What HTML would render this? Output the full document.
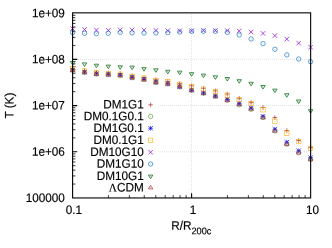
<!DOCTYPE html><html><head><meta charset="utf-8"><style>html,body{margin:0;padding:0;background:#fff}</style></head><body><svg width="332" height="248" viewBox="0 0 332 248" style="display:block;font-family:'Liberation Sans',sans-serif;font-size:11.75px">
<rect width="332" height="248" fill="#fff"/>
<path d="M78 59.39H310.6M78 105.58H310.6M78 151.76H310.6M191.45 14V197.95" stroke="#d6d6d6" stroke-width="0.7" stroke-dasharray="1 1" fill="none"/>
<path d="M72.6 59.39h4.6M72.6 105.58h4.6M72.6 151.76h4.6M191.60 197.95v-4.6" stroke="#000" stroke-width="1.1" fill="none"/>
<path d="M72.6 45.48h2.8M72.6 37.35h2.8M72.6 31.58h2.8M72.6 27.10h2.8M72.6 23.45h2.8M72.6 20.35h2.8M72.6 17.68h2.8M72.6 15.31h2.8M72.6 91.67h2.8M72.6 83.54h2.8M72.6 77.77h2.8M72.6 73.29h2.8M72.6 69.63h2.8M72.6 66.54h2.8M72.6 63.86h2.8M72.6 61.50h2.8M72.6 137.86h2.8M72.6 129.73h2.8M72.6 123.95h2.8M72.6 119.48h2.8M72.6 115.82h2.8M72.6 112.73h2.8M72.6 110.05h2.8M72.6 107.69h2.8M72.6 184.05h2.8M72.6 175.91h2.8M72.6 170.14h2.8M72.6 165.67h2.8M72.6 162.01h2.8M72.6 158.92h2.8M72.6 156.24h2.8M72.6 153.88h2.8M108.42 197.95v-2.8M129.38 197.95v-2.8M144.25 197.95v-2.8M155.78 197.95v-2.8M165.20 197.95v-2.8M173.17 197.95v-2.8M180.07 197.95v-2.8M186.15 197.95v-2.8M227.42 197.95v-2.8M248.38 197.95v-2.8M263.25 197.95v-2.8M274.78 197.95v-2.8M284.20 197.95v-2.8M292.17 197.95v-2.8M299.07 197.95v-2.8M305.15 197.95v-2.8" stroke="#000" stroke-width="0.78" fill="none"/>
<rect x="79" y="99" width="78" height="95" fill="#fff"/>
<path d="M70.35 68.40H74.85M72.60 66.15V70.65" stroke="#a52a2a" stroke-width="0.66" fill="none"/>
<path d="M82.25 70.55H86.75M84.50 68.30V72.80" stroke="#a52a2a" stroke-width="0.66" fill="none"/>
<path d="M94.15 72.20H98.65M96.40 69.95V74.45" stroke="#a52a2a" stroke-width="0.66" fill="none"/>
<path d="M106.05 73.05H110.55M108.30 70.80V75.30" stroke="#a52a2a" stroke-width="0.66" fill="none"/>
<path d="M117.95 73.75H122.45M120.20 71.50V76.00" stroke="#a52a2a" stroke-width="0.66" fill="none"/>
<path d="M129.85 75.70H134.35M132.10 73.45V77.95" stroke="#a52a2a" stroke-width="0.66" fill="none"/>
<path d="M141.75 77.60H146.25M144.00 75.35V79.85" stroke="#a52a2a" stroke-width="0.66" fill="none"/>
<path d="M153.65 79.70H158.15M155.90 77.45V81.95" stroke="#a52a2a" stroke-width="0.66" fill="none"/>
<path d="M165.55 81.40H170.05M167.80 79.15V83.65" stroke="#a52a2a" stroke-width="0.66" fill="none"/>
<path d="M177.45 83.55H181.95M179.70 81.30V85.80" stroke="#a52a2a" stroke-width="0.66" fill="none"/>
<path d="M189.35 85.75H193.85M191.60 83.50V88.00" stroke="#a52a2a" stroke-width="0.66" fill="none"/>
<path d="M201.25 88.30H205.75M203.50 86.05V90.55" stroke="#a52a2a" stroke-width="0.66" fill="none"/>
<path d="M213.15 90.85H217.65M215.40 88.60V93.10" stroke="#a52a2a" stroke-width="0.66" fill="none"/>
<path d="M225.05 94.10H229.55M227.30 91.85V96.35" stroke="#a52a2a" stroke-width="0.66" fill="none"/>
<path d="M236.95 98.30H241.45M239.20 96.05V100.55" stroke="#a52a2a" stroke-width="0.66" fill="none"/>
<path d="M248.85 102.55H253.35M251.10 100.30V104.80" stroke="#a52a2a" stroke-width="0.66" fill="none"/>
<path d="M260.75 107.45H265.25M263.00 105.20V109.70" stroke="#a52a2a" stroke-width="0.66" fill="none"/>
<path d="M272.65 117.50H277.15M274.90 115.25V119.75" stroke="#a52a2a" stroke-width="0.66" fill="none"/>
<path d="M284.55 130.50H289.05M286.80 128.25V132.75" stroke="#a52a2a" stroke-width="0.66" fill="none"/>
<path d="M296.45 140.50H300.95M298.70 138.25V142.75" stroke="#a52a2a" stroke-width="0.66" fill="none"/>
<path d="M308.35 147.60H312.85M310.60 145.35V149.85" stroke="#a52a2a" stroke-width="0.66" fill="none"/>
<path d="M148.35 104.80H152.85M150.60 102.55V107.05" stroke="#a52a2a" stroke-width="0.66" fill="none"/>
<circle cx="72.60" cy="70.25" r="2.20" stroke="#4f9a2f" stroke-width="0.66" fill="none"/><circle cx="72.60" cy="70.25" r="0.35" fill="#4f9a2f"/>
<circle cx="84.50" cy="72.40" r="2.20" stroke="#4f9a2f" stroke-width="0.66" fill="none"/><circle cx="84.50" cy="72.40" r="0.35" fill="#4f9a2f"/>
<circle cx="96.40" cy="74.05" r="2.20" stroke="#4f9a2f" stroke-width="0.66" fill="none"/><circle cx="96.40" cy="74.05" r="0.35" fill="#4f9a2f"/>
<circle cx="108.30" cy="74.60" r="2.20" stroke="#4f9a2f" stroke-width="0.66" fill="none"/><circle cx="108.30" cy="74.60" r="0.35" fill="#4f9a2f"/>
<circle cx="120.20" cy="75.40" r="2.20" stroke="#4f9a2f" stroke-width="0.66" fill="none"/><circle cx="120.20" cy="75.40" r="0.35" fill="#4f9a2f"/>
<circle cx="132.10" cy="77.70" r="2.20" stroke="#4f9a2f" stroke-width="0.66" fill="none"/><circle cx="132.10" cy="77.70" r="0.35" fill="#4f9a2f"/>
<circle cx="144.00" cy="79.50" r="2.20" stroke="#4f9a2f" stroke-width="0.66" fill="none"/><circle cx="144.00" cy="79.50" r="0.35" fill="#4f9a2f"/>
<circle cx="155.90" cy="82.40" r="2.20" stroke="#4f9a2f" stroke-width="0.66" fill="none"/><circle cx="155.90" cy="82.40" r="0.35" fill="#4f9a2f"/>
<circle cx="167.80" cy="83.90" r="2.20" stroke="#4f9a2f" stroke-width="0.66" fill="none"/><circle cx="167.80" cy="83.90" r="0.35" fill="#4f9a2f"/>
<circle cx="179.70" cy="86.80" r="2.20" stroke="#4f9a2f" stroke-width="0.66" fill="none"/><circle cx="179.70" cy="86.80" r="0.35" fill="#4f9a2f"/>
<circle cx="191.60" cy="90.30" r="2.20" stroke="#4f9a2f" stroke-width="0.66" fill="none"/><circle cx="191.60" cy="90.30" r="0.35" fill="#4f9a2f"/>
<circle cx="203.50" cy="93.20" r="2.20" stroke="#4f9a2f" stroke-width="0.66" fill="none"/><circle cx="203.50" cy="93.20" r="0.35" fill="#4f9a2f"/>
<circle cx="215.40" cy="96.30" r="2.20" stroke="#4f9a2f" stroke-width="0.66" fill="none"/><circle cx="215.40" cy="96.30" r="0.35" fill="#4f9a2f"/>
<circle cx="227.30" cy="100.30" r="2.20" stroke="#4f9a2f" stroke-width="0.66" fill="none"/><circle cx="227.30" cy="100.30" r="0.35" fill="#4f9a2f"/>
<circle cx="239.20" cy="104.70" r="2.20" stroke="#4f9a2f" stroke-width="0.66" fill="none"/><circle cx="239.20" cy="104.70" r="0.35" fill="#4f9a2f"/>
<circle cx="251.10" cy="109.30" r="2.20" stroke="#4f9a2f" stroke-width="0.66" fill="none"/><circle cx="251.10" cy="109.30" r="0.35" fill="#4f9a2f"/>
<circle cx="263.00" cy="117.50" r="2.20" stroke="#4f9a2f" stroke-width="0.66" fill="none"/><circle cx="263.00" cy="117.50" r="0.35" fill="#4f9a2f"/>
<circle cx="274.90" cy="130.90" r="2.20" stroke="#4f9a2f" stroke-width="0.66" fill="none"/><circle cx="274.90" cy="130.90" r="0.35" fill="#4f9a2f"/>
<circle cx="286.80" cy="144.15" r="2.20" stroke="#4f9a2f" stroke-width="0.66" fill="none"/><circle cx="286.80" cy="144.15" r="0.35" fill="#4f9a2f"/>
<circle cx="298.70" cy="152.70" r="2.20" stroke="#4f9a2f" stroke-width="0.66" fill="none"/><circle cx="298.70" cy="152.70" r="0.35" fill="#4f9a2f"/>
<circle cx="310.60" cy="159.20" r="2.20" stroke="#4f9a2f" stroke-width="0.66" fill="none"/><circle cx="310.60" cy="159.20" r="0.35" fill="#4f9a2f"/>
<circle cx="150.60" cy="116.40" r="2.20" stroke="#4f9a2f" stroke-width="0.66" fill="none"/><circle cx="150.60" cy="116.40" r="0.35" fill="#4f9a2f"/>
<path d="M70.40 70.05H74.80M72.60 67.85V72.25M70.40 67.85L74.80 72.25M70.40 72.25L74.80 67.85" stroke="#0000ff" stroke-width="0.68" fill="none"/>
<path d="M82.30 72.20H86.70M84.50 70.00V74.40M82.30 70.00L86.70 74.40M82.30 74.40L86.70 70.00" stroke="#0000ff" stroke-width="0.68" fill="none"/>
<path d="M94.20 73.85H98.60M96.40 71.65V76.05M94.20 71.65L98.60 76.05M94.20 76.05L98.60 71.65" stroke="#0000ff" stroke-width="0.68" fill="none"/>
<path d="M106.10 74.40H110.50M108.30 72.20V76.60M106.10 72.20L110.50 76.60M106.10 76.60L110.50 72.20" stroke="#0000ff" stroke-width="0.68" fill="none"/>
<path d="M118.00 75.20H122.40M120.20 73.00V77.40M118.00 73.00L122.40 77.40M118.00 77.40L122.40 73.00" stroke="#0000ff" stroke-width="0.68" fill="none"/>
<path d="M129.90 77.50H134.30M132.10 75.30V79.70M129.90 75.30L134.30 79.70M129.90 79.70L134.30 75.30" stroke="#0000ff" stroke-width="0.68" fill="none"/>
<path d="M141.80 79.30H146.20M144.00 77.10V81.50M141.80 77.10L146.20 81.50M141.80 81.50L146.20 77.10" stroke="#0000ff" stroke-width="0.68" fill="none"/>
<path d="M153.70 82.20H158.10M155.90 80.00V84.40M153.70 80.00L158.10 84.40M153.70 84.40L158.10 80.00" stroke="#0000ff" stroke-width="0.68" fill="none"/>
<path d="M165.60 83.70H170.00M167.80 81.50V85.90M165.60 81.50L170.00 85.90M165.60 85.90L170.00 81.50" stroke="#0000ff" stroke-width="0.68" fill="none"/>
<path d="M177.50 86.60H181.90M179.70 84.40V88.80M177.50 84.40L181.90 88.80M177.50 88.80L181.90 84.40" stroke="#0000ff" stroke-width="0.68" fill="none"/>
<path d="M189.40 90.10H193.80M191.60 87.90V92.30M189.40 87.90L193.80 92.30M189.40 92.30L193.80 87.90" stroke="#0000ff" stroke-width="0.68" fill="none"/>
<path d="M201.30 93.05H205.70M203.50 90.85V95.25M201.30 90.85L205.70 95.25M201.30 95.25L205.70 90.85" stroke="#0000ff" stroke-width="0.68" fill="none"/>
<path d="M213.20 96.00H217.60M215.40 93.80V98.20M213.20 93.80L217.60 98.20M213.20 98.20L217.60 93.80" stroke="#0000ff" stroke-width="0.68" fill="none"/>
<path d="M225.10 99.40H229.50M227.30 97.20V101.60M225.10 97.20L229.50 101.60M225.10 101.60L229.50 97.20" stroke="#0000ff" stroke-width="0.68" fill="none"/>
<path d="M237.00 103.70H241.40M239.20 101.50V105.90M237.00 101.50L241.40 105.90M237.00 105.90L241.40 101.50" stroke="#0000ff" stroke-width="0.68" fill="none"/>
<path d="M248.90 108.10H253.30M251.10 105.90V110.30M248.90 105.90L253.30 110.30M248.90 110.30L253.30 105.90" stroke="#0000ff" stroke-width="0.68" fill="none"/>
<path d="M260.80 116.30H265.20M263.00 114.10V118.50M260.80 114.10L265.20 118.50M260.80 118.50L265.20 114.10" stroke="#0000ff" stroke-width="0.68" fill="none"/>
<path d="M272.70 129.20H277.10M274.90 127.00V131.40M272.70 127.00L277.10 131.40M272.70 131.40L277.10 127.00" stroke="#0000ff" stroke-width="0.68" fill="none"/>
<path d="M284.60 142.20H289.00M286.80 140.00V144.40M284.60 140.00L289.00 144.40M284.60 144.40L289.00 140.00" stroke="#0000ff" stroke-width="0.68" fill="none"/>
<path d="M296.50 150.70H300.90M298.70 148.50V152.90M296.50 148.50L300.90 152.90M296.50 152.90L300.90 148.50" stroke="#0000ff" stroke-width="0.68" fill="none"/>
<path d="M308.40 157.70H312.80M310.60 155.50V159.90M308.40 155.50L312.80 159.90M308.40 159.90L312.80 155.50" stroke="#0000ff" stroke-width="0.68" fill="none"/>
<path d="M148.40 128.30H152.80M150.60 126.10V130.50M148.40 126.10L152.80 130.50M148.40 130.50L152.80 126.10" stroke="#0000ff" stroke-width="0.68" fill="none"/>
<rect x="70.40" y="66.60" width="4.40" height="4.40" stroke="#ffa500" stroke-width="0.56" fill="none"/><circle cx="72.60" cy="68.80" r="0.35" fill="#ffa500"/>
<rect x="82.30" y="68.75" width="4.40" height="4.40" stroke="#ffa500" stroke-width="0.56" fill="none"/><circle cx="84.50" cy="70.95" r="0.35" fill="#ffa500"/>
<rect x="94.20" y="70.40" width="4.40" height="4.40" stroke="#ffa500" stroke-width="0.56" fill="none"/><circle cx="96.40" cy="72.60" r="0.35" fill="#ffa500"/>
<rect x="106.10" y="71.25" width="4.40" height="4.40" stroke="#ffa500" stroke-width="0.56" fill="none"/><circle cx="108.30" cy="73.45" r="0.35" fill="#ffa500"/>
<rect x="118.00" y="72.00" width="4.40" height="4.40" stroke="#ffa500" stroke-width="0.56" fill="none"/><circle cx="120.20" cy="74.20" r="0.35" fill="#ffa500"/>
<rect x="129.90" y="74.20" width="4.40" height="4.40" stroke="#ffa500" stroke-width="0.56" fill="none"/><circle cx="132.10" cy="76.40" r="0.35" fill="#ffa500"/>
<rect x="141.80" y="75.90" width="4.40" height="4.40" stroke="#ffa500" stroke-width="0.56" fill="none"/><circle cx="144.00" cy="78.10" r="0.35" fill="#ffa500"/>
<rect x="153.70" y="78.20" width="4.40" height="4.40" stroke="#ffa500" stroke-width="0.56" fill="none"/><circle cx="155.90" cy="80.40" r="0.35" fill="#ffa500"/>
<rect x="165.60" y="79.60" width="4.40" height="4.40" stroke="#ffa500" stroke-width="0.56" fill="none"/><circle cx="167.80" cy="81.80" r="0.35" fill="#ffa500"/>
<rect x="177.50" y="82.20" width="4.40" height="4.40" stroke="#ffa500" stroke-width="0.56" fill="none"/><circle cx="179.70" cy="84.40" r="0.35" fill="#ffa500"/>
<rect x="189.40" y="84.50" width="4.40" height="4.40" stroke="#ffa500" stroke-width="0.56" fill="none"/><circle cx="191.60" cy="86.70" r="0.35" fill="#ffa500"/>
<rect x="201.30" y="87.00" width="4.40" height="4.40" stroke="#ffa500" stroke-width="0.56" fill="none"/><circle cx="203.50" cy="89.20" r="0.35" fill="#ffa500"/>
<rect x="213.20" y="89.45" width="4.40" height="4.40" stroke="#ffa500" stroke-width="0.56" fill="none"/><circle cx="215.40" cy="91.65" r="0.35" fill="#ffa500"/>
<rect x="225.10" y="93.00" width="4.40" height="4.40" stroke="#ffa500" stroke-width="0.56" fill="none"/><circle cx="227.30" cy="95.20" r="0.35" fill="#ffa500"/>
<rect x="237.00" y="97.30" width="4.40" height="4.40" stroke="#ffa500" stroke-width="0.56" fill="none"/><circle cx="239.20" cy="99.50" r="0.35" fill="#ffa500"/>
<rect x="248.90" y="101.30" width="4.40" height="4.40" stroke="#ffa500" stroke-width="0.56" fill="none"/><circle cx="251.10" cy="103.50" r="0.35" fill="#ffa500"/>
<rect x="260.80" y="107.60" width="4.40" height="4.40" stroke="#ffa500" stroke-width="0.56" fill="none"/><circle cx="263.00" cy="109.80" r="0.35" fill="#ffa500"/>
<rect x="272.70" y="119.00" width="4.40" height="4.40" stroke="#ffa500" stroke-width="0.56" fill="none"/><circle cx="274.90" cy="121.20" r="0.35" fill="#ffa500"/>
<rect x="284.60" y="131.10" width="4.40" height="4.40" stroke="#ffa500" stroke-width="0.56" fill="none"/><circle cx="286.80" cy="133.30" r="0.35" fill="#ffa500"/>
<rect x="296.50" y="139.30" width="4.40" height="4.40" stroke="#ffa500" stroke-width="0.56" fill="none"/><circle cx="298.70" cy="141.50" r="0.35" fill="#ffa500"/>
<rect x="308.40" y="146.20" width="4.40" height="4.40" stroke="#ffa500" stroke-width="0.56" fill="none"/><circle cx="310.60" cy="148.40" r="0.35" fill="#ffa500"/>
<rect x="148.40" y="138.10" width="4.40" height="4.40" stroke="#ffa500" stroke-width="0.56" fill="none"/><circle cx="150.60" cy="140.30" r="0.35" fill="#ffa500"/>
<path d="M70.35 26.35L74.85 30.85M70.35 30.85L74.85 26.35" stroke="#9400d3" stroke-width="0.72" fill="none"/>
<path d="M82.25 27.25L86.75 31.75M82.25 31.75L86.75 27.25" stroke="#9400d3" stroke-width="0.72" fill="none"/>
<path d="M94.15 27.85L98.65 32.35M94.15 32.35L98.65 27.85" stroke="#9400d3" stroke-width="0.72" fill="none"/>
<path d="M106.05 28.15L110.55 32.65M106.05 32.65L110.55 28.15" stroke="#9400d3" stroke-width="0.72" fill="none"/>
<path d="M117.95 27.65L122.45 32.15M117.95 32.15L122.45 27.65" stroke="#9400d3" stroke-width="0.72" fill="none"/>
<path d="M129.85 27.65L134.35 32.15M129.85 32.15L134.35 27.65" stroke="#9400d3" stroke-width="0.72" fill="none"/>
<path d="M141.75 27.85L146.25 32.35M141.75 32.35L146.25 27.85" stroke="#9400d3" stroke-width="0.72" fill="none"/>
<path d="M153.65 28.15L158.15 32.65M153.65 32.65L158.15 28.15" stroke="#9400d3" stroke-width="0.72" fill="none"/>
<path d="M165.55 28.45L170.05 32.95M165.55 32.95L170.05 28.45" stroke="#9400d3" stroke-width="0.72" fill="none"/>
<path d="M177.45 28.55L181.95 33.05M177.45 33.05L181.95 28.55" stroke="#9400d3" stroke-width="0.72" fill="none"/>
<path d="M189.35 28.55L193.85 33.05M189.35 33.05L193.85 28.55" stroke="#9400d3" stroke-width="0.72" fill="none"/>
<path d="M201.25 28.15L205.75 32.65M201.25 32.65L205.75 28.15" stroke="#9400d3" stroke-width="0.72" fill="none"/>
<path d="M213.15 28.25L217.65 32.75M213.15 32.75L217.65 28.25" stroke="#9400d3" stroke-width="0.72" fill="none"/>
<path d="M225.05 28.35L229.55 32.85M225.05 32.85L229.55 28.35" stroke="#9400d3" stroke-width="0.72" fill="none"/>
<path d="M236.95 28.75L241.45 33.25M236.95 33.25L241.45 28.75" stroke="#9400d3" stroke-width="0.72" fill="none"/>
<path d="M248.85 29.75L253.35 34.25M248.85 34.25L253.35 29.75" stroke="#9400d3" stroke-width="0.72" fill="none"/>
<path d="M260.75 31.15L265.25 35.65M260.75 35.65L265.25 31.15" stroke="#9400d3" stroke-width="0.72" fill="none"/>
<path d="M272.65 33.35L277.15 37.85M272.65 37.85L277.15 33.35" stroke="#9400d3" stroke-width="0.72" fill="none"/>
<path d="M284.55 36.85L289.05 41.35M284.55 41.35L289.05 36.85" stroke="#9400d3" stroke-width="0.72" fill="none"/>
<path d="M296.45 40.95L300.95 45.45M296.45 45.45L300.95 40.95" stroke="#9400d3" stroke-width="0.72" fill="none"/>
<path d="M308.35 44.95L312.85 49.45M308.35 49.45L312.85 44.95" stroke="#9400d3" stroke-width="0.72" fill="none"/>
<path d="M148.35 149.95L152.85 154.45M148.35 154.45L152.85 149.95" stroke="#9400d3" stroke-width="0.72" fill="none"/>
<circle cx="72.60" cy="32.60" r="2.20" stroke="#2e7fc8" stroke-width="0.74" fill="none"/><circle cx="72.60" cy="32.60" r="0.35" fill="#2e7fc8"/>
<circle cx="84.50" cy="33.30" r="2.20" stroke="#2e7fc8" stroke-width="0.74" fill="none"/><circle cx="84.50" cy="33.30" r="0.35" fill="#2e7fc8"/>
<circle cx="96.40" cy="33.70" r="2.20" stroke="#2e7fc8" stroke-width="0.74" fill="none"/><circle cx="96.40" cy="33.70" r="0.35" fill="#2e7fc8"/>
<circle cx="108.30" cy="33.30" r="2.20" stroke="#2e7fc8" stroke-width="0.74" fill="none"/><circle cx="108.30" cy="33.30" r="0.35" fill="#2e7fc8"/>
<circle cx="120.20" cy="32.30" r="2.20" stroke="#2e7fc8" stroke-width="0.74" fill="none"/><circle cx="120.20" cy="32.30" r="0.35" fill="#2e7fc8"/>
<circle cx="132.10" cy="32.80" r="2.20" stroke="#2e7fc8" stroke-width="0.74" fill="none"/><circle cx="132.10" cy="32.80" r="0.35" fill="#2e7fc8"/>
<circle cx="144.00" cy="33.00" r="2.20" stroke="#2e7fc8" stroke-width="0.74" fill="none"/><circle cx="144.00" cy="33.00" r="0.35" fill="#2e7fc8"/>
<circle cx="155.90" cy="33.00" r="2.20" stroke="#2e7fc8" stroke-width="0.74" fill="none"/><circle cx="155.90" cy="33.00" r="0.35" fill="#2e7fc8"/>
<circle cx="167.80" cy="32.60" r="2.20" stroke="#2e7fc8" stroke-width="0.74" fill="none"/><circle cx="167.80" cy="32.60" r="0.35" fill="#2e7fc8"/>
<circle cx="179.70" cy="32.00" r="2.20" stroke="#2e7fc8" stroke-width="0.74" fill="none"/><circle cx="179.70" cy="32.00" r="0.35" fill="#2e7fc8"/>
<circle cx="191.60" cy="31.30" r="2.20" stroke="#2e7fc8" stroke-width="0.74" fill="none"/><circle cx="191.60" cy="31.30" r="0.35" fill="#2e7fc8"/>
<circle cx="203.50" cy="31.30" r="2.20" stroke="#2e7fc8" stroke-width="0.74" fill="none"/><circle cx="203.50" cy="31.30" r="0.35" fill="#2e7fc8"/>
<circle cx="215.40" cy="31.30" r="2.20" stroke="#2e7fc8" stroke-width="0.74" fill="none"/><circle cx="215.40" cy="31.30" r="0.35" fill="#2e7fc8"/>
<circle cx="227.30" cy="32.30" r="2.20" stroke="#2e7fc8" stroke-width="0.74" fill="none"/><circle cx="227.30" cy="32.30" r="0.35" fill="#2e7fc8"/>
<circle cx="239.20" cy="35.00" r="2.20" stroke="#2e7fc8" stroke-width="0.74" fill="none"/><circle cx="239.20" cy="35.00" r="0.35" fill="#2e7fc8"/>
<circle cx="251.10" cy="38.90" r="2.20" stroke="#2e7fc8" stroke-width="0.74" fill="none"/><circle cx="251.10" cy="38.90" r="0.35" fill="#2e7fc8"/>
<circle cx="263.00" cy="43.60" r="2.20" stroke="#2e7fc8" stroke-width="0.74" fill="none"/><circle cx="263.00" cy="43.60" r="0.35" fill="#2e7fc8"/>
<circle cx="274.90" cy="49.30" r="2.20" stroke="#2e7fc8" stroke-width="0.74" fill="none"/><circle cx="274.90" cy="49.30" r="0.35" fill="#2e7fc8"/>
<circle cx="286.80" cy="54.90" r="2.20" stroke="#2e7fc8" stroke-width="0.74" fill="none"/><circle cx="286.80" cy="54.90" r="0.35" fill="#2e7fc8"/>
<circle cx="298.70" cy="59.00" r="2.20" stroke="#2e7fc8" stroke-width="0.74" fill="none"/><circle cx="298.70" cy="59.00" r="0.35" fill="#2e7fc8"/>
<circle cx="310.60" cy="61.70" r="2.20" stroke="#2e7fc8" stroke-width="0.74" fill="none"/><circle cx="310.60" cy="61.70" r="0.35" fill="#2e7fc8"/>
<circle cx="150.60" cy="164.00" r="2.20" stroke="#2e7fc8" stroke-width="0.74" fill="none"/><circle cx="150.60" cy="164.00" r="0.35" fill="#2e7fc8"/>
<path d="M72.60 65.06L74.80 61.50H70.40Z" stroke="#1e7a2c" stroke-width="0.85" fill="none"/><circle cx="72.60" cy="62.60" r="0.35" fill="#1e7a2c"/>
<path d="M84.50 66.46L86.70 62.90H82.30Z" stroke="#1e7a2c" stroke-width="0.85" fill="none"/><circle cx="84.50" cy="64.00" r="0.35" fill="#1e7a2c"/>
<path d="M96.40 67.76L98.60 64.20H94.20Z" stroke="#1e7a2c" stroke-width="0.85" fill="none"/><circle cx="96.40" cy="65.30" r="0.35" fill="#1e7a2c"/>
<path d="M108.30 68.66L110.50 65.10H106.10Z" stroke="#1e7a2c" stroke-width="0.85" fill="none"/><circle cx="108.30" cy="66.20" r="0.35" fill="#1e7a2c"/>
<path d="M120.20 69.36L122.40 65.80H118.00Z" stroke="#1e7a2c" stroke-width="0.85" fill="none"/><circle cx="120.20" cy="66.90" r="0.35" fill="#1e7a2c"/>
<path d="M132.10 69.66L134.30 66.10H129.90Z" stroke="#1e7a2c" stroke-width="0.85" fill="none"/><circle cx="132.10" cy="67.20" r="0.35" fill="#1e7a2c"/>
<path d="M144.00 71.16L146.20 67.60H141.80Z" stroke="#1e7a2c" stroke-width="0.85" fill="none"/><circle cx="144.00" cy="68.70" r="0.35" fill="#1e7a2c"/>
<path d="M155.90 72.36L158.10 68.80H153.70Z" stroke="#1e7a2c" stroke-width="0.85" fill="none"/><circle cx="155.90" cy="69.90" r="0.35" fill="#1e7a2c"/>
<path d="M167.80 73.86L170.00 70.30H165.60Z" stroke="#1e7a2c" stroke-width="0.85" fill="none"/><circle cx="167.80" cy="71.40" r="0.35" fill="#1e7a2c"/>
<path d="M179.70 74.66L181.90 71.10H177.50Z" stroke="#1e7a2c" stroke-width="0.85" fill="none"/><circle cx="179.70" cy="72.20" r="0.35" fill="#1e7a2c"/>
<path d="M191.60 76.26L193.80 72.70H189.40Z" stroke="#1e7a2c" stroke-width="0.85" fill="none"/><circle cx="191.60" cy="73.80" r="0.35" fill="#1e7a2c"/>
<path d="M203.50 77.66L205.70 74.10H201.30Z" stroke="#1e7a2c" stroke-width="0.85" fill="none"/><circle cx="203.50" cy="75.20" r="0.35" fill="#1e7a2c"/>
<path d="M215.40 79.36L217.60 75.80H213.20Z" stroke="#1e7a2c" stroke-width="0.85" fill="none"/><circle cx="215.40" cy="76.90" r="0.35" fill="#1e7a2c"/>
<path d="M227.30 81.06L229.50 77.50H225.10Z" stroke="#1e7a2c" stroke-width="0.85" fill="none"/><circle cx="227.30" cy="78.60" r="0.35" fill="#1e7a2c"/>
<path d="M239.20 83.26L241.40 79.70H237.00Z" stroke="#1e7a2c" stroke-width="0.85" fill="none"/><circle cx="239.20" cy="80.80" r="0.35" fill="#1e7a2c"/>
<path d="M251.10 85.86L253.30 82.30H248.90Z" stroke="#1e7a2c" stroke-width="0.85" fill="none"/><circle cx="251.10" cy="83.40" r="0.35" fill="#1e7a2c"/>
<path d="M263.00 89.06L265.20 85.50H260.80Z" stroke="#1e7a2c" stroke-width="0.85" fill="none"/><circle cx="263.00" cy="86.60" r="0.35" fill="#1e7a2c"/>
<path d="M274.90 92.66L277.10 89.10H272.70Z" stroke="#1e7a2c" stroke-width="0.85" fill="none"/><circle cx="274.90" cy="90.20" r="0.35" fill="#1e7a2c"/>
<path d="M286.80 97.26L289.00 93.70H284.60Z" stroke="#1e7a2c" stroke-width="0.85" fill="none"/><circle cx="286.80" cy="94.80" r="0.35" fill="#1e7a2c"/>
<path d="M298.70 103.56L300.90 100.00H296.50Z" stroke="#1e7a2c" stroke-width="0.85" fill="none"/><circle cx="298.70" cy="101.10" r="0.35" fill="#1e7a2c"/>
<path d="M310.60 113.26L312.80 109.70H308.40Z" stroke="#1e7a2c" stroke-width="0.85" fill="none"/><circle cx="310.60" cy="110.80" r="0.35" fill="#1e7a2c"/>
<path d="M150.60 178.66L152.80 175.10H148.40Z" stroke="#1e7a2c" stroke-width="0.85" fill="none"/><circle cx="150.60" cy="176.20" r="0.35" fill="#1e7a2c"/>
<path d="M72.60 67.89L74.80 71.45H70.40Z" stroke="#a82c38" stroke-width="0.72" fill="none"/><circle cx="72.60" cy="70.35" r="0.35" fill="#a82c38"/>
<path d="M84.50 70.04L86.70 73.60H82.30Z" stroke="#a82c38" stroke-width="0.72" fill="none"/><circle cx="84.50" cy="72.50" r="0.35" fill="#a82c38"/>
<path d="M96.40 71.69L98.60 75.25H94.20Z" stroke="#a82c38" stroke-width="0.72" fill="none"/><circle cx="96.40" cy="74.15" r="0.35" fill="#a82c38"/>
<path d="M108.30 72.24L110.50 75.80H106.10Z" stroke="#a82c38" stroke-width="0.72" fill="none"/><circle cx="108.30" cy="74.70" r="0.35" fill="#a82c38"/>
<path d="M120.20 73.04L122.40 76.60H118.00Z" stroke="#a82c38" stroke-width="0.72" fill="none"/><circle cx="120.20" cy="75.50" r="0.35" fill="#a82c38"/>
<path d="M132.10 75.34L134.30 78.90H129.90Z" stroke="#a82c38" stroke-width="0.72" fill="none"/><circle cx="132.10" cy="77.80" r="0.35" fill="#a82c38"/>
<path d="M144.00 77.14L146.20 80.70H141.80Z" stroke="#a82c38" stroke-width="0.72" fill="none"/><circle cx="144.00" cy="79.60" r="0.35" fill="#a82c38"/>
<path d="M155.90 80.04L158.10 83.60H153.70Z" stroke="#a82c38" stroke-width="0.72" fill="none"/><circle cx="155.90" cy="82.50" r="0.35" fill="#a82c38"/>
<path d="M167.80 81.54L170.00 85.10H165.60Z" stroke="#a82c38" stroke-width="0.72" fill="none"/><circle cx="167.80" cy="84.00" r="0.35" fill="#a82c38"/>
<path d="M179.70 84.44L181.90 88.00H177.50Z" stroke="#a82c38" stroke-width="0.72" fill="none"/><circle cx="179.70" cy="86.90" r="0.35" fill="#a82c38"/>
<path d="M191.60 87.99L193.80 91.55H189.40Z" stroke="#a82c38" stroke-width="0.72" fill="none"/><circle cx="191.60" cy="90.45" r="0.35" fill="#a82c38"/>
<path d="M203.50 90.94L205.70 94.50H201.30Z" stroke="#a82c38" stroke-width="0.72" fill="none"/><circle cx="203.50" cy="93.40" r="0.35" fill="#a82c38"/>
<path d="M215.40 94.04L217.60 97.60H213.20Z" stroke="#a82c38" stroke-width="0.72" fill="none"/><circle cx="215.40" cy="96.50" r="0.35" fill="#a82c38"/>
<path d="M227.30 97.94L229.50 101.50H225.10Z" stroke="#a82c38" stroke-width="0.72" fill="none"/><circle cx="227.30" cy="100.40" r="0.35" fill="#a82c38"/>
<path d="M239.20 102.19L241.40 105.75H237.00Z" stroke="#a82c38" stroke-width="0.72" fill="none"/><circle cx="239.20" cy="104.65" r="0.35" fill="#a82c38"/>
<path d="M251.10 106.64L253.30 110.20H248.90Z" stroke="#a82c38" stroke-width="0.72" fill="none"/><circle cx="251.10" cy="109.10" r="0.35" fill="#a82c38"/>
<path d="M263.00 115.34L265.20 118.90H260.80Z" stroke="#a82c38" stroke-width="0.72" fill="none"/><circle cx="263.00" cy="117.80" r="0.35" fill="#a82c38"/>
<path d="M274.90 128.64L277.10 132.20H272.70Z" stroke="#a82c38" stroke-width="0.72" fill="none"/><circle cx="274.90" cy="131.10" r="0.35" fill="#a82c38"/>
<path d="M286.80 141.89L289.00 145.45H284.60Z" stroke="#a82c38" stroke-width="0.72" fill="none"/><circle cx="286.80" cy="144.35" r="0.35" fill="#a82c38"/>
<path d="M298.70 150.39L300.90 153.95H296.50Z" stroke="#a82c38" stroke-width="0.72" fill="none"/><circle cx="298.70" cy="152.85" r="0.35" fill="#a82c38"/>
<path d="M310.60 157.24L312.80 160.80H308.40Z" stroke="#a82c38" stroke-width="0.72" fill="none"/><circle cx="310.60" cy="159.70" r="0.35" fill="#a82c38"/>
<path d="M150.60 185.34L152.80 188.90H148.40Z" stroke="#a82c38" stroke-width="0.72" fill="none"/><circle cx="150.60" cy="187.80" r="0.35" fill="#a82c38"/>
<rect x="72.6" y="12.85" width="238.05" height="185.10" stroke="#000" stroke-width="1.1" fill="none"/>
<g fill="#000" stroke="#000" stroke-width="0.16" style="will-change:transform"><text transform="translate(143.7 108.60) rotate(0.03) scale(1 1.05)" text-anchor="end">DM1G1</text><text transform="translate(143.7 120.20) rotate(0.03) scale(1 1.05)" text-anchor="end">DM0.1G0.1</text><text transform="translate(143.7 132.10) rotate(0.03) scale(1 1.05)" text-anchor="end">DM1G0.1</text><text transform="translate(143.7 144.10) rotate(0.03) scale(1 1.05)" text-anchor="end">DM0.1G1</text><text transform="translate(143.7 156.00) rotate(0.03) scale(1 1.05)" text-anchor="end">DM10G10</text><text transform="translate(143.7 167.80) rotate(0.03) scale(1 1.05)" text-anchor="end">DM1G10</text><text transform="translate(143.7 180.00) rotate(0.03) scale(1 1.05)" text-anchor="end">DM10G1</text><text transform="translate(143.7 191.60) rotate(0.03) scale(1 1.05)" text-anchor="end"><tspan font-family="Liberation Serif" font-size="11.2">Λ</tspan>CDM</text><text transform="translate(64.9 17.20) rotate(0.03) scale(1 1.05)" text-anchor="end">1e+09</text><text transform="translate(64.9 63.39) rotate(0.03) scale(1 1.05)" text-anchor="end">1e+08</text><text transform="translate(64.9 109.58) rotate(0.03) scale(1 1.05)" text-anchor="end">1e+07</text><text transform="translate(64.9 155.76) rotate(0.03) scale(1 1.05)" text-anchor="end">1e+06</text><text transform="translate(64.9 201.95) rotate(0.03) scale(1 1.05)" text-anchor="end">100000</text><text transform="translate(73.90 214) rotate(0.03) scale(1 1.05)" text-anchor="middle">0.1</text><text transform="translate(193.10 214) rotate(0.03) scale(1 1.05)" text-anchor="middle">1</text><text transform="translate(312.40 214) rotate(0.03) scale(1 1.05)" text-anchor="middle">10</text><text transform="translate(171.2 229.8) rotate(0.03) scale(1 1.05)">R/R<tspan dy="4.2" font-size="9.2">200c</tspan></text><text transform="translate(13.5 105.6) rotate(-90.03) scale(1 1.05)" text-anchor="middle">T (K)</text></g>
</svg></body></html>
